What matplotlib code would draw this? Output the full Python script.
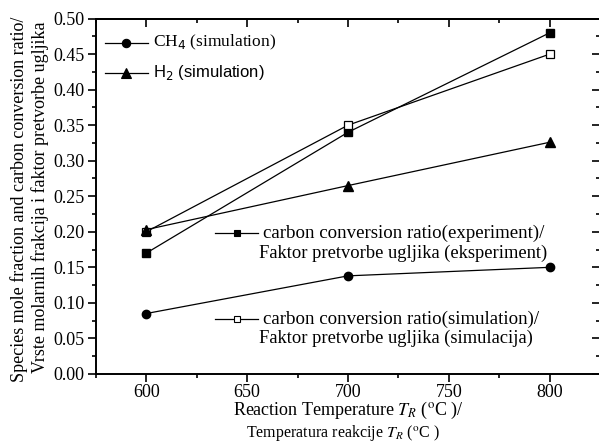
import matplotlib
matplotlib.use("Agg")
import matplotlib.pyplot as plt
from matplotlib.ticker import MultipleLocator

temperature = [600, 700, 800]
ch4_sim = [0.085, 0.138, 0.150]
h2_sim = [0.203, 0.265, 0.326]
ccr_exp = [0.170, 0.340, 0.480]
ccr_sim = [0.200, 0.350, 0.450]

serif = "Liberation Serif"
sans = "Liberation Sans"

fig = plt.figure(figsize=(5.99, 4.42), dpi=100)
ax = fig.add_axes([0.160, 0.154, 0.842, 0.804])

lw = 0.9
ax.plot(temperature, ccr_exp, "-s", color="black", lw=lw, ms=5.2, mfc="black", mec="black")
ax.plot(temperature, ccr_sim, "-s", color="black", lw=lw, ms=5.2, mfc="white", mec="black", mew=0.9)
ax.plot(temperature, h2_sim, "-^", color="black", lw=lw, ms=7.5, mfc="black", mec="black")
ax.plot(temperature, ch4_sim, "-o", color="black", lw=lw, ms=6, mfc="black", mec="black")

ax.set_xlim(575, 825)
ax.set_ylim(0.0, 0.5)
ax.xaxis.set_major_locator(MultipleLocator(50))
ax.xaxis.set_minor_locator(MultipleLocator(25))
ax.yaxis.set_major_locator(MultipleLocator(0.05))
ax.yaxis.set_minor_locator(MultipleLocator(0.025))
ax.set_xticks([600, 650, 700, 750, 800])
ax.set_yticks([i * 0.05 for i in range(11)])
ax.set_yticklabels([f"{i * 0.05:.2f}" for i in range(11)])

ax.tick_params(which="both", direction="out", width=1.2)
ax.tick_params(which="major", length=6, labelsize=13, pad=2)
ax.tick_params(axis="x", which="major", pad=1)
ax.tick_params(which="minor", length=3)
for lab in ax.get_xticklabels() + ax.get_yticklabels():
    lab.set_family(serif)

# mirrored ticks pointing into the plot on the top and right
top = ax.secondary_xaxis("top")
top.xaxis.set_major_locator(MultipleLocator(50))
top.xaxis.set_minor_locator(MultipleLocator(25))
top.tick_params(which="both", direction="in", width=1.2, labeltop=False)
top.tick_params(which="major", length=6)
top.tick_params(which="minor", length=3)
right = ax.secondary_yaxis("right")
right.yaxis.set_major_locator(MultipleLocator(0.05))
right.yaxis.set_minor_locator(MultipleLocator(0.025))
right.tick_params(which="both", direction="in", width=1.2, labelright=False)
right.tick_params(which="major", length=6)
right.tick_params(which="minor", length=3)
for s in list(ax.spines.values()) + list(top.spines.values()) + list(right.spines.values()):
    s.set_linewidth(1.4)

# legend keys drawn in axes fractions
def key(y, x0, marker, mfc, ms):
    ax.plot([x0, x0 + 0.085], [y, y], "-", color="black", lw=lw,
            transform=ax.transAxes, clip_on=False)
    ax.plot([x0 + 0.0425], [y], marker, color="black", mfc=mfc, mec="black",
            ms=ms, transform=ax.transAxes, clip_on=False, mew=0.8)

key(0.932, 0.018, "o", "black", 6)
ax.text(0.113, 0.932, r"CH$_4$ (simulation)", transform=ax.transAxes,
        family=serif, fontsize=12.5, va="center", ha="left")
key(0.848, 0.018, "^", "black", 6.5)
ax.text(0.113, 0.848, r"H$_2$ (simulation)", transform=ax.transAxes,
        family=sans, fontsize=12, va="center", ha="left")

key(0.397, 0.237, "s", "black", 4.5)
ax.text(0.332, 0.397, "carbon conversion ratio(experiment)/", transform=ax.transAxes,
        family=serif, fontsize=13.6, va="center", ha="left")
ax.text(0.324, 0.340, "Faktor pretvorbe ugljika (eksperiment)", transform=ax.transAxes,
        family=serif, fontsize=13.3, va="center", ha="left")

key(0.155, 0.237, "s", "white", 4.5)
ax.text(0.332, 0.155, "carbon conversion ratio(simulation)/", transform=ax.transAxes,
        family=serif, fontsize=13.6, va="center", ha="left")
ax.text(0.324, 0.100, "Faktor pretvorbe ugljika (simulacija)", transform=ax.transAxes,
        family=serif, fontsize=13.3, va="center", ha="left")

fig.text(0.032, 0.549, "Species mole fraction and carbon conversion ratio/",
         rotation=90, family=serif, fontsize=13, ha="center", va="center")
fig.text(0.067, 0.554, "Vrste molarnih frakcija i faktor pretvorbe ugljika",
         rotation=90, family=serif, fontsize=13, ha="center", va="center")

fig.text(0.581, 0.071, r"Reaction Temperature $T_R$ ($^{\rm o}$C )/",
         family=serif, fontsize=13, ha="center", va="center",
         math_fontfamily="stix")
fig.text(0.573, 0.021, r"Temperatura reakcije $T_R$ ($^{\rm o}$C )",
         family=serif, fontsize=11.5, ha="center", va="center",
         math_fontfamily="stix")

fig.savefig("out.png", dpi=100)
